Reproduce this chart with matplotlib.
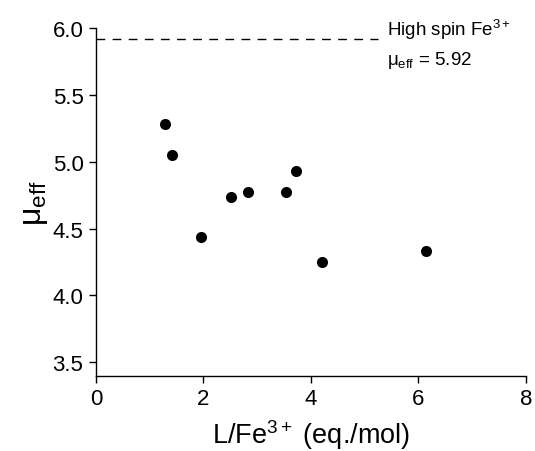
import matplotlib
matplotlib.use("Agg")
import matplotlib.pyplot as plt

plt.rcParams['font.family'] = ['Liberation Sans', 'DejaVu Sans']
plt.rcParams['mathtext.fontset'] = 'custom'
plt.rcParams['mathtext.rm'] = 'Liberation Sans'
plt.rcParams['mathtext.it'] = 'Liberation Sans:italic'
plt.rcParams['mathtext.bf'] = 'Liberation Sans:bold'

ratio = [1.28, 1.42, 1.95, 2.51, 2.83, 3.54, 3.73, 4.20, 6.15]
mu_eff = [5.28, 5.05, 4.44, 4.74, 4.77, 4.77, 4.93, 4.25, 4.33]
high_spin = 5.92
xticks = [0, 2, 4, 6, 8]
yticks = [3.5, 4.0, 4.5, 5.0, 5.5, 6.0]

fig = plt.figure(figsize=(5.35, 4.52), dpi=100)
ax = fig.add_axes([0.1794, 0.1666, 0.8036, 0.7692])

ax.scatter(ratio, mu_eff, s=64, color='black', zorder=3, linewidths=0)
line, = ax.plot([0, 5.25], [high_spin, high_spin], color='black', lw=1.0)
line.set_dashes((6.3, 5.3))

ax.text(5.42, 5.95, 'High spin Fe$^{\\mathregular{3+}}$', fontsize=13.5, ha='left', va='baseline')
ax.text(5.42, 5.73, 'μ$_{\\mathregular{eff}}$ = 5.92', fontsize=13.5, ha='left', va='baseline')

ax.set_xlim(0, 8)
ax.set_ylim(3.4, 6.0)
ax.set_xticks(xticks)
ax.set_yticks(yticks)
ax.set_yticklabels([f'{v:.1f}' for v in yticks])
for s in ['top', 'right']:
    ax.spines[s].set_visible(False)
for s in ['left', 'bottom']:
    ax.spines[s].set_linewidth(1.0)
ax.tick_params(direction='out', length=5, width=1.0, labelsize=16, pad=4)

ax.set_xlabel('L/Fe$^{\\mathregular{3+}}$ (eq./mol)', fontsize=19.5, labelpad=6)
ax.set_ylabel('μ$_{\\mathregular{eff}}$', fontsize=23, labelpad=2)

fig.savefig('out.png', dpi=100)
